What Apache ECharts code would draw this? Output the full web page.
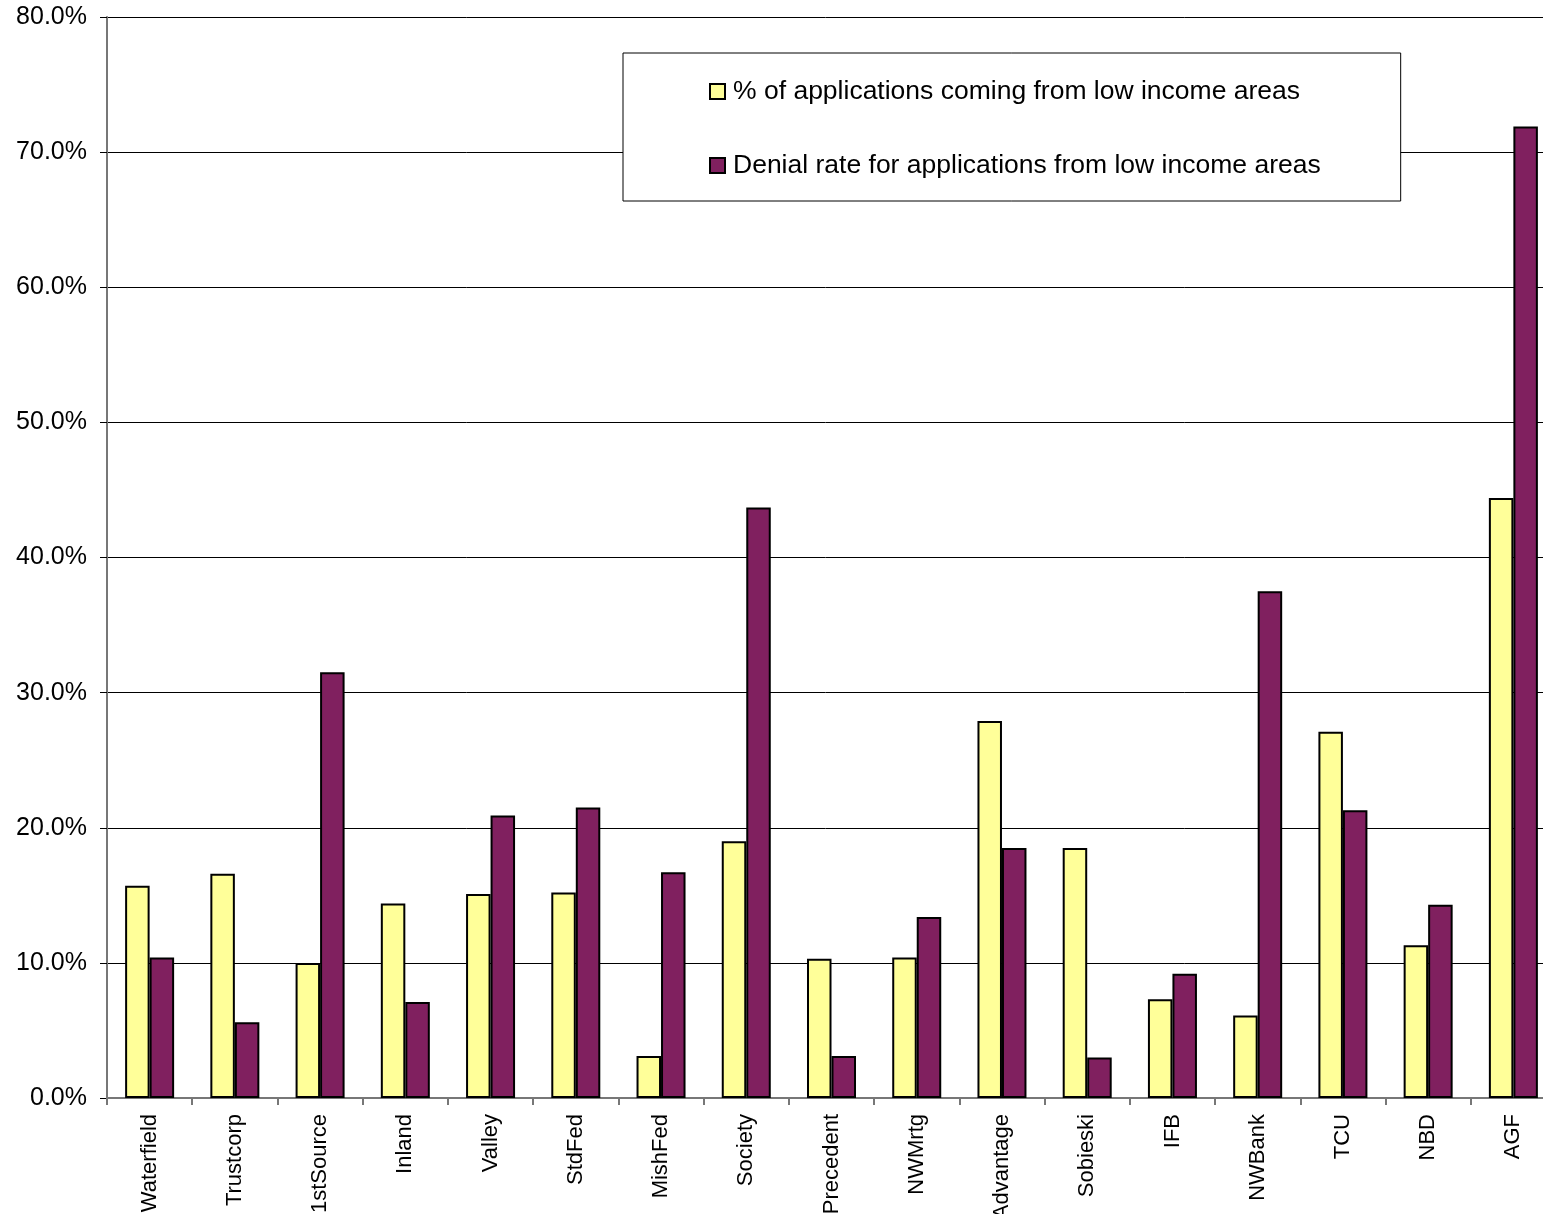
<!DOCTYPE html>
<html>
<head>
<meta charset="utf-8">
<script src="https://cdn.jsdelivr.net/npm/echarts@6/dist/echarts.min.js"></script>
<style>
html,body{margin:0;padding:0;background:#fff;overflow:hidden;}
#c{width:1543px;height:1214px;}
</style>
</head>
<body>
<div id="c"></div>
<script>
const categories = ['Waterfield','Trustcorp','1stSource','Inland','Valley','StdFed','MishFed','Society','Precedent','NWMrtg','Advantage','Sobieski','IFB','NWBank','TCU','NBD','AGF'];
const lowIncomeShare = [15.7,16.6,10.0,14.4,15.1,15.2,3.1,19.0,10.3,10.4,27.9,18.5,7.3,6.1,27.1,11.3,44.4];
const denialRate = [10.4,5.6,31.5,7.1,20.9,21.5,16.7,43.7,3.1,13.4,18.5,3.0,9.2,37.5,21.3,14.3,71.9];
const seriesNames = ['% of applications coming from low income areas','Denial rate for applications from low income areas'];

const chart = echarts.init(document.getElementById('c'), null, {renderer:'canvas'});
const font = '"Liberation Sans", Arial, sans-serif';
chart.setOption({
  animation:false,
  backgroundColor:'#fff',
  textStyle:{fontFamily:font},
  grid:{left:107, top:17, width:1449, height:1081, containLabel:false, outerBoundsMode:'none'},
  legend:{
    orient:'vertical',
    left:623, top:53,
    padding:[25,80,22,86],
    itemGap:47,
    icon:'rect',
    itemWidth:15, itemHeight:15,
    borderColor:'#000', borderWidth:1, backgroundColor:'#fff',
    textStyle:{fontSize:26.5, color:'#000', fontFamily:font, lineHeight:26, padding:[0,0,0,3]},
    data:seriesNames
  },
  xAxis:{
    type:'category',
    data:categories,
    axisLine:{lineStyle:{color:'#777', width:2}},
    axisTick:{show:true, length:7, lineStyle:{color:'#777', width:2}},
    axisLabel:{rotate:90, fontSize:22, color:'#000', margin:16, fontFamily:font, interval:0},
    splitLine:{show:false}
  },
  yAxis:{
    type:'value',
    min:0, max:80, interval:10,
    axisLine:{show:true, lineStyle:{color:'#777', width:2}},
    axisTick:{show:true, length:7, lineStyle:{color:'#000', width:1}},
    axisLabel:{fontSize:25, color:'#000', margin:20, fontFamily:font,
      formatter:function(v){return v.toFixed(1)+'%';}},
    splitLine:{show:true, lineStyle:{color:'#000', width:1}}
  },
  series:[
    {name:seriesNames[0], type:'bar', data:lowIncomeShare, barWidth:24.5, barGap:'0%',
     itemStyle:{color:'#FFFF99', borderColor:'#000', borderWidth:2}},
    {name:seriesNames[1], type:'bar', data:denialRate, barWidth:24.5, barGap:'0%',
     itemStyle:{color:'#80205F', borderColor:'#000', borderWidth:2}}
  ]
});
</script>
</body>
</html>
